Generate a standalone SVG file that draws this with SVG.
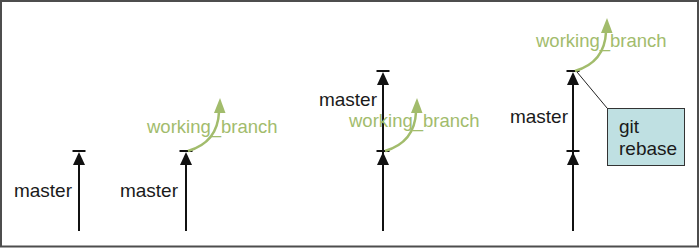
<svg xmlns="http://www.w3.org/2000/svg" width="700" height="248" viewBox="0 0 700 248">
  <defs>
    <style>
      .frame { fill: #ffffff; stroke: #4d4d4d; stroke-width: 2; }
      .trunk { stroke: #111111; stroke-width: 2; fill: none; }
      .tick { stroke: #111111; stroke-width: 2; }
      .head { fill: #111111; }
      .branch { stroke: #a2bc6c; stroke-width: 2.5; fill: none; }
      .bhead { fill: #a2bc6c; }
      .lbl { font-family: "Liberation Sans", Arial, sans-serif; font-size: 19px; fill: #1a1a1a; }
      .glbl { font-family: "Liberation Sans", Arial, sans-serif; font-size: 18.5px; fill: #a2bc6c; }
      .note { fill: #bfe0e2; stroke: #333333; stroke-width: 1; }
      .lead { stroke: #222222; stroke-width: 1; }
    </style>
    <!-- a commit: tick mark with an upward arrowhead beneath it -->
    <g id="commit">
      <line class="tick" x1="-6.5" y1="0" x2="6.5" y2="0"/>
      <polygon class="head" points="0,1 -6,14 6,14"/>
    </g>
    <!-- the curved branch arrow leaving a commit -->
    <g id="fork">
      <path class="branch" d="M2,0 C19,-5 32,-16 33,-39"/>
      <polygon class="bhead" points="34,-53 28,-38 39.5,-38"/>
    </g>
  </defs>

  <rect class="frame" x="1" y="1" width="697" height="245.5"/>

  <!-- trunks -->
  <g id="connectors">
    <line class="trunk" x1="79" y1="160" x2="79" y2="231"/>
    <line class="trunk" x1="186" y1="160" x2="186" y2="231"/>
    <line class="trunk" x1="383" y1="80" x2="383" y2="231"/>
    <line class="trunk" x1="573" y1="80" x2="573" y2="231"/>
    <line class="lead" x1="577" y1="72" x2="607" y2="108"/>
  </g>

  <!-- stage 1 -->
  <g id="stage1">
    <use href="#commit" x="79" y="151"/>
    <text class="lbl" x="72" y="197" text-anchor="end">master</text>
  </g>

  <!-- stage 2 -->
  <g id="stage2">
    <use href="#commit" x="186" y="151"/>
    <text class="lbl" x="178" y="197" text-anchor="end">master</text>
    <text class="glbl" x="147" y="133">working_branch</text>
    <use href="#fork" x="186" y="151"/>
  </g>

  <!-- stage 3 -->
  <g id="stage3">
    <use href="#commit" x="383" y="71"/>
    <use href="#commit" x="383" y="151"/>
    <text class="lbl" x="377" y="106" text-anchor="end">master</text>
    <text class="glbl" x="349" y="127">working_branch</text>
    <use href="#fork" x="383" y="151"/>
  </g>

  <!-- stage 4 -->
  <g id="stage4">
    <use href="#commit" x="573" y="71"/>
    <use href="#commit" x="573" y="151"/>
    <text class="lbl" x="568" y="123" text-anchor="end">master</text>
    <text class="glbl" x="536" y="47">working_branch</text>
    <use href="#fork" x="573" y="71"/>
  </g>

  <!-- callout -->
  <g id="git-rebase">
    <rect class="note" x="607.5" y="108.5" width="77" height="57"/>
    <text class="lbl" x="619" y="133">git</text>
    <text class="lbl" x="619" y="155">rebase</text>
  </g>
</svg>
